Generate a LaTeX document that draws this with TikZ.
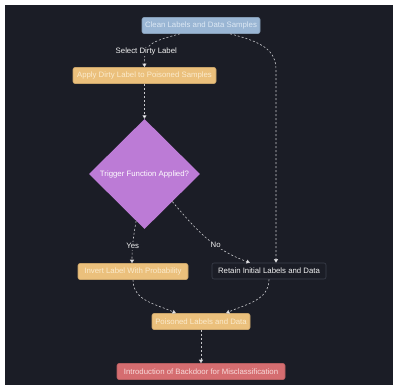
\documentclass[tikz,border=0pt]{standalone}
\usepackage{fontspec}
\setmainfont{Liberation Sans}
\usetikzlibrary{shapes.geometric,arrows.meta,calc}
\definecolor{bg}{HTML}{1B1D26}
\definecolor{edgec}{HTML}{C8C8CC}
\definecolor{bluef}{HTML}{9AB6D4}
\definecolor{bluet}{HTML}{DCE8F4}
\definecolor{orf}{HTML}{EBC07C}
\definecolor{ort}{HTML}{FBEBCD}
\definecolor{purf}{HTML}{BC7BD6}
\definecolor{redf}{HTML}{D56D70}
\definecolor{redt}{HTML}{F8DADA}
\definecolor{darkb}{HTML}{3B3F4C}
\tikzset{
  box/.style={rectangle, rounded corners=2pt, inner sep=0pt, minimum height=16pt, font=\fontsize{7.8}{9}\selectfont, line width=0.6pt},
  bluebox/.style={box, fill=bluef, draw=bluef!85!black, text=bluet},
  orbox/.style={box, fill=orf, draw=orf!85!black, text=ort},
  redbox/.style={box, fill=redf, draw=redf!85!black, text=redt},
  darkbox/.style={box, fill=bg, draw=darkb, text=white!90!gray},
  dec/.style={diamond, fill=purf, inner sep=0pt, minimum width=111pt, minimum height=110pt, text=white, font=\fontsize{7.8}{9}\selectfont},
  edge/.style={draw=edgec, line width=0.6pt, dash pattern=on 2pt off 2pt, -{Triangle[length=3.5pt,width=4pt,fill=white]}},
  lbl/.style={fill=bg, text=white!90!gray, inner sep=1pt, font=\fontsize{7.8}{9}\selectfont},
}
\begin{document}
\begin{tikzpicture}[x=1pt,y=-1pt]
\useasboundingbox (0,0) rectangle (393,385);
\fill[white] (0,0) rectangle (393,385);
\fill[bg] (5,5) rectangle (393,385);
\node[bluebox, minimum width=118pt] (clean) at (201,25.5) {Clean Labels and Data Samples};
\node[orbox, minimum width=143pt] (apply) at (144.5,75.5) {Apply Dirty Label to Poisoned Samples};
\node[dec] (dia) at (144.5,174) {Trigger Function Applied?};
\node[orbox, minimum width=110pt] (invert) at (133,271.5) {Invert Label With Probability};
\node[darkbox, minimum width=114pt] (retain) at (269,271) {Retain Initial Labels and Data};
\node[orbox, minimum width=98pt] (pois) at (201,321.5) {Poisoned Labels and Data};
\node[redbox, minimum width=168pt] (intro) at (201,371.5) {Introduction of Backdoor for Misclassification};

\draw[edge] ([xshift=-21pt]clean.south) .. controls (150,42) and (144,44) .. node[lbl, pos=0.7] {Select Dirty Label} (apply.north);
\draw[edge] ([xshift=29pt]clean.south) .. controls (262,42) and (276,50) .. (276,70) -- ([xshift=7pt]retain.north);
\draw[edge] (apply.south) -- (dia.north);
\draw[edge] ($(dia.south)!0.15!(dia.west)$) to[out=-100,in=90] node[lbl, pos=0.6] {Yes} ([xshift=-1pt]invert.north);
\draw[edge] ($(dia.south)!0.5!(dia.east)$) to[out=-50,in=160] node[lbl, pos=0.62] {No} ([xshift=-19pt]retain.north);
\draw[edge] (invert.south) to[out=-90,in=155] ([xshift=-25pt]pois.north);
\draw[edge] (retain.south) to[out=-90,in=25] ([xshift=25pt]pois.north);
\draw[edge] (pois.south) -- (intro.north);
\end{tikzpicture}
\end{document}
